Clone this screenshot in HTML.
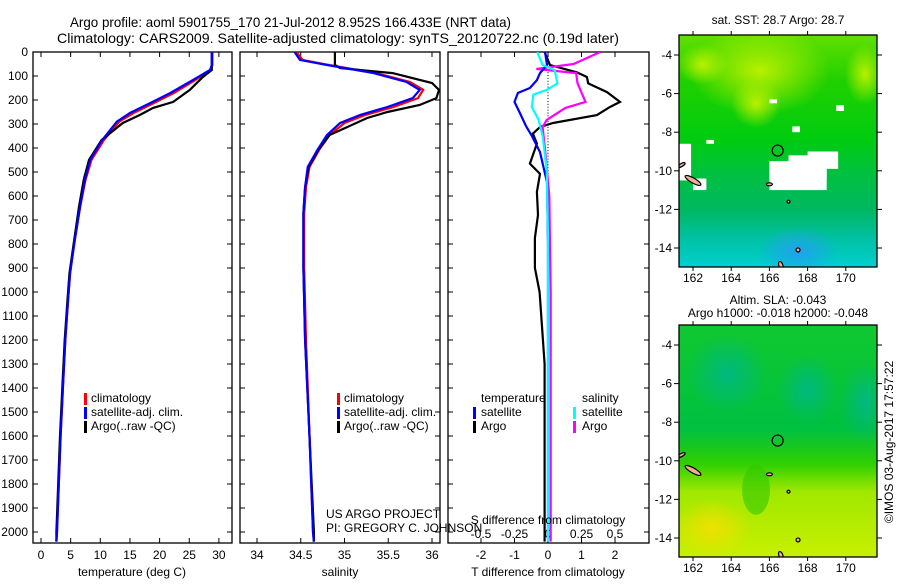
<!DOCTYPE html>
<html><head><meta charset="utf-8"><style>
body{margin:0;background:#fff;width:900px;height:580px;overflow:hidden}
svg{font-family:"Liberation Sans",sans-serif}
</style></head><body>
<svg id="c" width="900" height="580" xmlns="http://www.w3.org/2000/svg">
<defs>
<clipPath id="cp1"><rect x="33" y="52" width="199" height="491"/></clipPath>
<clipPath id="cp2"><rect x="240" y="52" width="200" height="491"/></clipPath>
<clipPath id="cp3"><rect x="448" y="52" width="201" height="491"/></clipPath>
<clipPath id="cm1"><rect x="679" y="35" width="198" height="232"/></clipPath>
<clipPath id="cm2"><rect x="679" y="325" width="198" height="232"/></clipPath>
<radialGradient id="y1" cx="0.5" cy="0.5" r="0.5"><stop offset="0" stop-color="#b8f000"/><stop offset="1" stop-color="#b8f000" stop-opacity="0"/></radialGradient>
<radialGradient id="bl" cx="0.5" cy="0.5" r="0.5"><stop offset="0" stop-color="#20a0f0"/><stop offset="1" stop-color="#20a0f0" stop-opacity="0"/></radialGradient>
<radialGradient id="tl" cx="0.5" cy="0.5" r="0.5"><stop offset="0" stop-color="#00b880"/><stop offset="1" stop-color="#00b880" stop-opacity="0"/></radialGradient>
<radialGradient id="yy" cx="0.5" cy="0.5" r="0.5"><stop offset="0" stop-color="#f0e000"/><stop offset="1" stop-color="#f0e000" stop-opacity="0"/></radialGradient>
<linearGradient id="g1" x1="0" y1="0" x2="0" y2="1">
<stop offset="0" stop-color="#60e000"/><stop offset="0.2" stop-color="#20d000"/><stop offset="0.45" stop-color="#00cc10"/><stop offset="0.6" stop-color="#00c040"/><stop offset="0.75" stop-color="#00b860"/><stop offset="0.87" stop-color="#00c0a0"/><stop offset="1" stop-color="#00d0d0"/></linearGradient>
<linearGradient id="g2" x1="0" y1="0" x2="0" y2="1">
<stop offset="0" stop-color="#10c830"/><stop offset="0.45" stop-color="#00c040"/><stop offset="0.6" stop-color="#30d000"/><stop offset="0.72" stop-color="#a0e800"/><stop offset="1" stop-color="#c8f000"/></linearGradient>
</defs>
<text x="70" y="27" font-size="14" textLength="441" lengthAdjust="spacingAndGlyphs">Argo profile: aoml 5901755_170 21-Jul-2012 8.952S 166.433E (NRT data)</text>
<text x="57" y="43" font-size="14" textLength="562" lengthAdjust="spacingAndGlyphs">Climatology: CARS2009. Satellite-adjusted climatology: synTS_20120722.nc (0.19d later)</text>
<g id="plots"></g>
<g id="maps"></g>
<text x="326" y="518" font-size="12">US ARGO PROJECT</text>
<text x="326" y="532" font-size="12">PI: GREGORY C. JOHNSON</text>
<text transform="translate(893,442) rotate(-90)" font-size="12" text-anchor="middle">©IMOS 03-Aug-2017 17:57:22</text>
</svg>
<script>
// ---- data ----
const tDepth=[0,54,75,117,171,213,254,290,367,450,533,645,783,921,1020,1200,1400,1600,1800,2000,2040];
const tSat=[28.8,28.8,28.5,25.6,21.8,18.4,15,12.8,10.3,8.3,7.4,6.6,5.7,4.9,4.6,4.1,3.7,3.3,3.0,2.7,2.6];
const tClim=[28.9,28.9,28.6,26.0,22.4,19.0,15.6,13.2,10.6,8.5,7.5,6.6,5.7,4.9,4.6,4.1,3.7,3.3,3.0,2.7,2.6];
const tArgoDepth=[0,75,104,158,208,233,262,296,367,450,533,645,783,921,1020,1200,1400,1600,1800,2000,2040];
const tArgo=[28.8,28.8,27.3,25.1,22.3,18.9,16.7,13.8,10.2,8.1,7.2,6.4,5.6,4.8,4.5,4.0,3.6,3.2,2.9,2.6,2.6];
const sDepth=[0,33,54,88,125,158,192,229,262,296,346,408,479,563,671,900,1200,1600,2000,2040];
const sSat=[34.43,34.49,34.8,35.33,35.71,35.86,35.78,35.49,35.18,34.95,34.8,34.69,34.58,34.55,34.53,34.53,34.55,34.6,34.64,34.65];
const sClim=[34.45,34.52,34.82,35.36,35.75,35.9,35.84,35.56,35.24,35.0,34.83,34.71,34.6,34.56,34.54,34.54,34.56,34.6,34.64,34.65];
const sArgoDepth=[0,54,67,88,129,158,192,221,250,275,313,346,408,479,563,671,900,1200,1600,2000,2040];
const sArgo=[34.89,34.89,34.95,35.55,36.0,36.08,36.05,35.86,35.49,35.26,35.03,34.83,34.7,34.59,34.55,34.53,34.53,34.55,34.6,34.65,34.65];
const dTsatDepth=[0,54,88,117,150,171,208,254,308,350,417,542,800,1200,1600,2000,2040];
const dTsat=[-0.09,-0.03,-0.24,-0.33,-0.54,-0.9,-1.0,-0.84,-0.66,-0.48,-0.24,-0.03,0,0,0,0,0];
const dTargoDepth=[0,54,85,104,131,167,208,229,263,296,313,340,382,465,508,583,679,775,900,1000,1300,1600,2000,2040];
const dTargo=[-0.1,0.06,0.87,1.16,1.2,1.76,2.15,1.85,1.46,0.15,-0.24,-0.45,-0.33,-0.54,-0.24,-0.33,-0.3,-0.39,-0.39,-0.25,-0.1,-0.1,-0.1,-0.1];
const dSsatDepth=[0,54,75,131,158,178,229,283,350,490,767,2040];
const dSsat=[-0.08,-0.04,0.05,0.07,-0.01,-0.11,-0.12,-0.07,-0.04,-0.01,0,0];
const dSargoDepth=[0,50,70,71,88,130,208,233,283,313,417,600,1000,2000,2040];
const dSargo=[0.39,0.19,-0.08,-0.08,0.21,0.22,0.28,0.13,-0.01,-0.04,-0.02,0.01,0.02,0.02,0.02];
const depthTicks=[0,100,200,300,400,500,600,700,800,900,1000,1100,1200,1300,1400,1500,1600,1700,1800,1900,2000];
const tTicks=[0,5,10,15,20,25,30];
const sTicks=[34,34.5,35,35.5,36];
const sTickLabels=["34","34.5","35","35.5","36"];
const dTTicks=[-2,-1,0,1,2];
const dSTicks=[-0.5,-0.25,0,0.25,0.5];
const dSTickLabels=["-0.5","-0.25","0","0.25","0.5"];
const latTicks=[-4,-6,-8,-10,-12,-14];
const lonTicks=[162,164,166,168,170];
const argoLon=166.433, argoLat=-8.952;

// ---- scales ----
const yD=d=>52+d*0.24;
const xT=t=>41+t*5.93;
const xS=s=>257+(s-34)*87.5;
const xDT=t=>548+t*33.5;
const xDS=s=>548+s*134;
const xLon=l=>693+(l-162)*19.1;
const yLat1=l=>55+(-4-l)*19.3;
const yLat2=l=>345+(-4-l)*19.3;

const NS="http://www.w3.org/2000/svg";
function mk(tag,attrs,parent){const e=document.createElementNS(NS,tag);for(const k in attrs)e.setAttribute(k,attrs[k]);parent.appendChild(e);return e;}
const P=document.getElementById('plots');
function line(xs,ds,xf,color,clip,name){
  const pts=xs.map((v,i)=>xf(v).toFixed(1)+','+yD(ds[i]).toFixed(1)).join(' ');
  const e=mk('polyline',{points:pts,fill:'none',stroke:color,'stroke-width':2.2,'clip-path':'url(#'+clip+')'},P);
  
  
}
function frame(x0,x1,name,yLabels){
  const r=mk('rect',{x:x0,y:52,width:x1-x0,height:491,fill:'none',stroke:'#000','stroke-width':1.3},P);
  
  
  depthTicks.forEach(d=>{
    mk('line',{x1:x0,x2:x0+5,y1:yD(d),y2:yD(d),stroke:'#000'},P);
    mk('line',{x1:x1,x2:x1-5,y1:yD(d),y2:yD(d),stroke:'#000'},P);
    if(yLabels){const t=mk('text',{x:28,y:yD(d)+4,'font-size':12,'text-anchor':'end'},P);t.textContent=d;
      
      }
  });
}
function xticks(vals,labels,xf,yb,ly,name){
  vals.forEach((v,i)=>{
    mk('line',{x1:xf(v),x2:xf(v),y1:543,y2:538,stroke:'#000'},P);
    mk('line',{x1:xf(v),x2:xf(v),y1:52,y2:57,stroke:'#000'},P);
    const t=mk('text',{x:xf(v),y:ly,'font-size':12,'text-anchor':'middle'},P);t.textContent=labels[i];
    
    
  });
}
function txt(x,y,s,name,anchor){const t=mk('text',{x:x,y:y,'font-size':12,'text-anchor':anchor||'start'},P);t.textContent=s;
  
  return t;}
function mark(x,y,c){mk('rect',{x:x,y:y-9,width:3,height:12,fill:c},P);}

// panel 1
frame(33,232,'temperature-panel',true);
xticks(tTicks,tTicks.map(String),xT,543,559,'temperature-tick-label');
line(tClim,tDepth,xT,'#f00','cp1','temperature-climatology-line');
line(tArgo,tArgoDepth,xT,'#000','cp1','temperature-argo-line');
line(tSat,tDepth,xT,'#00f','cp1','temperature-satellite-line');
txt(132,576,'temperature (deg C)','temperature-axis-title','middle');
mark(84,402,'#f00');txt(91,402,'climatology','legend-climatology');
mark(84,416,'#00f');txt(91,416,'satellite-adj. clim.','legend-satellite');
mark(84,430,'#000');txt(91,430,'Argo(..raw -QC)','legend-argo');

// panel 2
frame(240,440,'salinity-panel',false);
xticks(sTicks,sTickLabels,xS,543,559,'salinity-tick-label');
line(sClim,sDepth,xS,'#f00','cp2','salinity-climatology-line');
line(sArgo,sArgoDepth,xS,'#000','cp2','salinity-argo-line');
line(sSat,sDepth,xS,'#00f','cp2','salinity-satellite-line');
txt(340,576,'salinity','salinity-axis-title','middle');
mark(337,402,'#f00');txt(344,402,'climatology','legend2-climatology');
mark(337,416,'#00f');txt(344,416,'satellite-adj. clim.','legend2-satellite');
mark(337,430,'#000');txt(344,430,'Argo(..raw -QC)','legend2-argo');

// panel 3
frame(448,649,'difference-panel',false);
xticks(dTTicks,dTTicks.map(String),xDT,543,559,'t-diff-tick-label');
dSTicks.forEach((v,i)=>{const t=txt(xDS(v),538,dSTickLabels[i],'s-diff-tick-label','middle');});
for(let d=0;d<=2000;d+=12) mk('rect',{x:547.5,y:yD(d),width:1,height:1,fill:'#000'},P);
line(dTargo,dTargoDepth,xDT,'#000','cp3','t-diff-argo-line');
line(dSargo,dSargoDepth,xDS,'#f0f','cp3','s-diff-argo-line');
line(dTsat,dTsatDepth,xDT,'#00f','cp3','t-diff-satellite-line');
line(dSsat,dSsatDepth,xDS,'#0ff','cp3','s-diff-satellite-line');
txt(548,524,'S difference from climatology','s-diff-axis-title','middle');
txt(548,576,'T difference from climatology','t-diff-axis-title','middle');
txt(481,402,'temperature','legend3-temperature-header');
mark(473,416,'#00f');txt(481,416,'satellite','legend3-t-satellite');
mark(473,430,'#000');txt(481,430,'Argo','legend3-t-argo');
txt(582,402,'salinity','legend3-salinity-header');
mark(573,416,'#0ff');txt(582,416,'satellite','legend3-s-satellite');
mark(573,430,'#f0f');txt(582,430,'Argo','legend3-s-argo');

// ---- maps ----
const M=document.getElementById('maps');
function land(g,yl){
  [[162.0,-10.5,9,2.5,30],[161.4,-9.7,1.5,4,60],[166.0,-10.7,3,1.5,0],[167.0,-11.6,1.5,1.5,0],[167.5,-14.1,2,2,0],[166.6,-14.9,2,4,-20]].forEach(a=>{
    mk('ellipse',{cx:xLon(a[0]),cy:yl(a[1]),rx:a[2],ry:a[3],transform:`rotate(${a[4]} ${xLon(a[0])} ${yl(a[1])})`,fill:'#f0b090',stroke:'#000','stroke-width':1.2},g);
  });
}
function mapFrame(g,y0,yl,name,cp){
  latTicks.forEach(l=>{
    mk('line',{x1:674,x2:679,y1:yl(l),y2:yl(l),stroke:'#000'},g);
    mk('line',{x1:877,x2:882,y1:yl(l),y2:yl(l),stroke:'#000'},g);
    const t=mk('text',{x:672,y:yl(l)+4,'font-size':12,'text-anchor':'end'},g);t.textContent=l;
    
    
  });
  lonTicks.forEach(l=>{
    mk('line',{x1:xLon(l),x2:xLon(l),y1:y0,y2:y0-4,stroke:'#000'},g);
    mk('line',{x1:xLon(l),x2:xLon(l),y1:y0+232,y2:y0+236,stroke:'#000'},g);
    const t=mk('text',{x:xLon(l),y:y0+247,'font-size':12,'text-anchor':'middle'},g);t.textContent=l;
    
    
  });
  mk('circle',{cx:xLon(argoLon),cy:yl(argoLat),r:5.5,fill:'none',stroke:'#000','stroke-width':1.2},g);
  const r=mk('rect',{x:679,y:y0,width:198,height:232,fill:'none',stroke:'#000','stroke-width':1.3},g);
  
  
}
// map 1 SST
const g1=mk('g',{'clip-path':'url(#cm1)'},M);


mk('rect',{x:679,y:35,width:198,height:232,fill:'url(#g1)'},g1);
mk('ellipse',{cx:xLon(165.5),cy:yLat1(-4.8),rx:70,ry:45,fill:'url(#y1)'},g1);
mk('ellipse',{cx:xLon(165.3),cy:yLat1(-6.5),rx:25,ry:25,fill:'url(#y1)'},g1);
mk('ellipse',{cx:xLon(171),cy:yLat1(-5),rx:20,ry:30,fill:'url(#y1)'},g1);
mk('ellipse',{cx:xLon(162.5),cy:yLat1(-4.5),rx:25,ry:20,fill:'url(#y1)'},g1);
mk('ellipse',{cx:xLon(167.5),cy:yLat1(-14.2),rx:40,ry:25,fill:'url(#bl)'},g1);
[[166.0,-9.5,3,1.5],[167.0,-9.2,2,1.2],[168.0,-9.0,1.6,0.9],[161.3,-8.6,0.6,1.9],[162,-10.4,0.7,0.6],[166,-6.3,0.4,0.2],[169.5,-6.6,0.4,0.3],[167.2,-7.7,0.4,0.3],[162.7,-8.4,0.4,0.2]].forEach(a=>{
  mk('rect',{x:xLon(a[0]),y:yLat1(a[1]),width:a[2]*19.1,height:a[3]*19.3,fill:'#fff'},g1);
});
land(g1,yLat1);
mapFrame(M,35,yLat1,'sst-map-frame');
const mt1=mk('text',{x:778,y:24,'font-size':12,'text-anchor':'middle'},M);mt1.textContent='sat. SST: 28.7 Argo: 28.7';


// map 2 SLA
const g2=mk('g',{'clip-path':'url(#cm2)'},M);


mk('rect',{x:679,y:325,width:198,height:232,fill:'url(#g2)'},g2);
mk('ellipse',{cx:xLon(163.8),cy:yLat2(-5.5),rx:40,ry:40,fill:'url(#tl)'},g2);
mk('ellipse',{cx:xLon(168),cy:yLat2(-6.3),rx:30,ry:35,fill:'url(#tl)'},g2);
mk('ellipse',{cx:xLon(171),cy:yLat2(-7),rx:25,ry:40,fill:'url(#tl)'},g2);
mk('ellipse',{cx:xLon(165.3),cy:yLat2(-11.5),rx:14,ry:25,fill:'#30c800',opacity:0.6},g2);
mk('ellipse',{cx:xLon(163),cy:yLat2(-13.5),rx:40,ry:30,fill:'url(#yy)'},g2);
land(g2,yLat2);
mapFrame(M,325,yLat2,'sla-map-frame');
const mt2=mk('text',{x:778,y:304,'font-size':12,'text-anchor':'middle'},M);mt2.textContent='Altim. SLA: -0.043';


const mt3=mk('text',{x:778,y:317,'font-size':12,'text-anchor':'middle'},M);mt3.textContent='Argo h1000: -0.018 h2000: -0.048';


</script>
</body></html>
